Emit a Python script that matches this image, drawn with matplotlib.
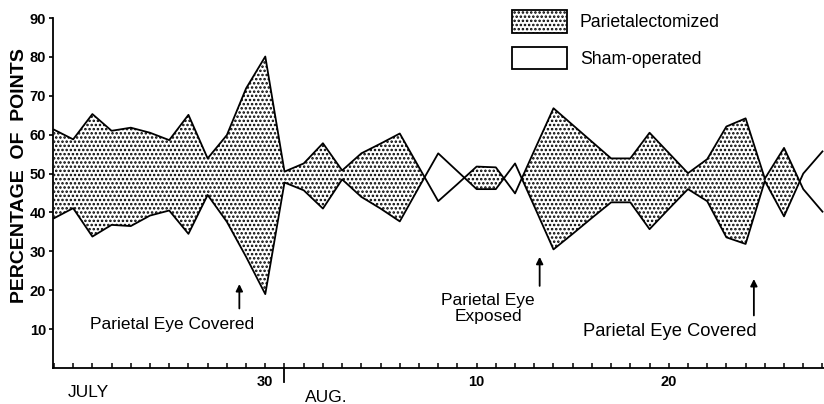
import matplotlib.pyplot as plt
from matplotlib.patches import Patch

plt.rcParams['font.family'] = ['Liberation Sans', 'DejaVu Sans']
plt.rcParams['hatch.linewidth'] = 1.2

# dias contados a partir de 1 de julho (1 de agosto = 32)
days = list(range(19, 60))
parietal = [61.3, 58.8, 65.3, 61.0, 61.8, 60.5, 58.6, 65.1, 53.9, 59.9, 71.9, 80.1,
            50.5, 52.6, 57.8, 50.8, 55.2, 57.7, 60.3, 51.6, 42.9, 47.3, 51.8, 51.6,
            44.9, 55.9, 66.8, 62.5, 58.2, 53.9, 53.9, 60.5, 55.3, 50.1, 53.7, 62.1,
            64.2, 48.7, 56.6, 46.0, 40.2]
sham = [38.5, 41.1, 33.8, 36.8, 36.5, 39.2, 40.5, 34.5, 44.5, 37.6, 28.6, 19.0,
        47.7, 45.7, 41.0, 48.5, 44.0, 41.0, 37.7, 46.5, 55.2, 50.6, 46.0, 46.0,
        52.6, 41.6, 30.5, 34.5, 38.6, 42.6, 42.6, 35.7, 40.9, 46.0, 42.9, 33.6,
        31.9, 48.1, 39.0, 50.0, 55.7]

tick_days = [30, 41, 51]
tick_labels = ['30', '10', '20']
month_break = 31

# (texto, x do texto, y do texto, x da seta, y inicio, y fim, tamanho)
notes = [
    ('Parietal Eye Covered', 25.15, 11.1, 28.65, 14.6, 22.3, 12.5),
    ('Parietal Eye\nExposed', 41.6, 15.2, 44.28, 20.4, 29.3, 12.5),
    ('Parietal Eye Covered', 51.05, 9.3, 55.43, 12.8, 23.6, 13.2),
]

fig = plt.figure(figsize=(8.24, 4.04), dpi=100)
ax = fig.add_axes([0.0643, 0.0891, 0.9357, 0.8663])

upper = [p >= s for p, s in zip(parietal, sham)]
ax.fill_between(days, parietal, sham, where=upper, interpolate=True,
                facecolor='white', edgecolor='black', hatch='....', linewidth=0)
ax.plot(days, parietal, color='black', lw=1.3)
ax.plot(days, sham, color='black', lw=1.3)

ax.set_xlim(18.95, 59.08)
ax.set_ylim(0, 90)
ax.spines['top'].set_visible(False)
ax.spines['right'].set_visible(False)
for s in ['left', 'bottom']:
    ax.spines[s].set_linewidth(1.3)

ax.set_yticks(range(10, 100, 10))
ax.tick_params(axis='y', direction='out', length=3, width=1.2, pad=2, labelsize=10.5)
ax.set_xticks(tick_days, tick_labels)
ax.set_xticks(days, minor=True)
ax.tick_params(axis='x', which='both', direction='in', length=3.6, width=1.1,
               pad=5, labelsize=10.5)
for lab in ax.get_xticklabels() + ax.get_yticklabels():
    lab.set_fontweight('bold')
ax.plot([month_break, month_break], [0, -0.04], transform=ax.get_xaxis_transform(),
        color='black', lw=1.3, clip_on=False)

ax.text(20.78, -0.071, 'JULY', transform=ax.get_xaxis_transform(),
        ha='center', va='center', fontsize=12.5)
ax.text(33.2, -0.083, 'AUG.', transform=ax.get_xaxis_transform(),
        ha='center', va='center', fontsize=12.5)

ax.set_ylabel('PERCENTAGE  OF  POINTS', fontsize=14, fontweight='bold', va='center')
ax.yaxis.set_label_coords(-0.043, 0.551)

for txt, tx, ty, axx, y0, y1, fs in notes:
    ax.text(tx, ty, txt, ha='center', va='center', fontsize=fs, linespacing=1.1)
    ax.annotate('', xy=(axx, y1), xytext=(axx, y0),
                arrowprops=dict(arrowstyle='-|>', color='black', lw=1.3,
                                mutation_scale=10))

handles = [Patch(facecolor='white', edgecolor='black', hatch='....', lw=1.3),
           Patch(facecolor='white', edgecolor='black', lw=1.3)]
fig.legend(handles, ['Parietalectomized', 'Sham-operated'],
           loc='upper left', bbox_to_anchor=(512 / 824, 1 - 10 / 404),
           frameon=False, fontsize=12.7, handlelength=3.1, handleheight=1.6,
           labelspacing=0.8, handletextpad=0.75, borderpad=0, borderaxespad=0)

fig.savefig('out.png', dpi=100, facecolor='white')
